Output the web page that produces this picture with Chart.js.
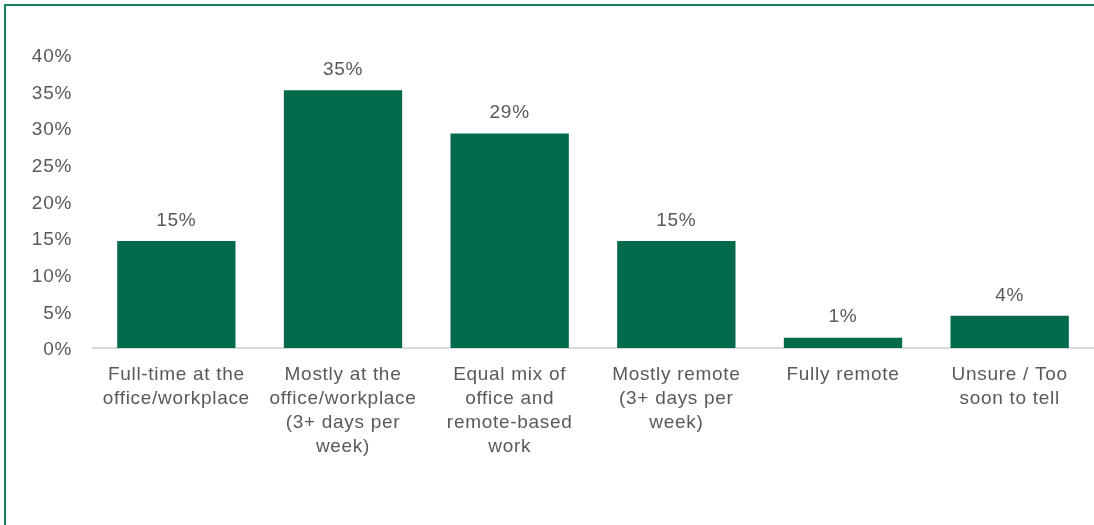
<!DOCTYPE html>
<html lang="en">
<head>
    <meta charset="UTF-8">
    <title>Preferred Work Arrangement</title>
    <script src="https://cdn.jsdelivr.net/npm/chart.js"></script>
    <style>
        html, body { margin: 0; padding: 0; background: #fff; }
        body { font-family: "Liberation Sans", Arial, sans-serif; }
        .frame { position: absolute; left: 4px; top: 4px; width: 1200px; height: 700px; border: 2px solid #1a7a5a; box-sizing: border-box; }
        .chart-container { position: absolute; left: 0; top: 0; width: 1094px; height: 525px; }
    </style>
</head>
<body>
    <div class="frame"></div>
    <div class="chart-container">
        <canvas id="workChart"></canvas>
    </div>

    <script>
        const categories = [
            ["Full-time at the", "office/workplace"],
            ["Mostly at the", "office/workplace", "(3+ days per", "week)"],
            ["Equal mix of", "office and", "remote-based", "work"],
            ["Mostly remote", "(3+ days per", "week)"],
            ["Fully remote"],
            ["Unsure / Too", "soon to tell"]
        ];
        const shares = [14.6, 35.2, 29.3, 14.6, 1.4, 4.4];
        const yTicks = [0, 5, 10, 15, 20, 25, 30, 35, 40];

        const textGrey = "#595959";
        const fontFamily = "'Liberation Sans', Arial, sans-serif";

        // slightly looser text tracking; resizing the canvas resets it, so reapply
        const tracking = {
            id: "tracking",
            beforeLayout(chart) { chart.ctx.letterSpacing = "0.7px"; },
            beforeDraw(chart) { chart.ctx.letterSpacing = "0.7px"; }
        };

        // value labels above each bar
        const barLabels = {
            id: "barLabels",
            afterDatasetsDraw(chart) {
                const ctx = chart.ctx;
                const meta = chart.getDatasetMeta(0);
                ctx.save();
                ctx.font = "19px " + fontFamily;
                ctx.fillStyle = textGrey;
                ctx.textAlign = "center";
                ctx.textBaseline = "bottom";
                meta.data.forEach((bar, i) => {
                    ctx.fillText(Math.round(shares[i]) + "%", bar.x, bar.y - 11);
                });
                ctx.restore();
            }
        };

        new Chart(document.getElementById("workChart"), {
            type: "bar",
            data: {
                labels: categories,
                datasets: [{
                    data: shares,
                    backgroundColor: "#036b4c",
                    borderWidth: 0,
                    categoryPercentage: 1,
                    barPercentage: 0.71
                }]
            },
            options: {
                responsive: true,
                maintainAspectRatio: false,
                animation: false,
                layout: { padding: { top: 55, left: 32, right: 1, bottom: 0 } },
                plugins: { legend: { display: false }, tooltip: { enabled: false } },
                scales: {
                    x: {
                        grid: { display: false, drawTicks: false },
                        border: { display: true, color: "#d9d9d9", width: 2 },
                        ticks: {
                            color: textGrey,
                            padding: 15,
                            maxRotation: 0,
                            autoSkip: false,
                            font: { size: 19, family: fontFamily, lineHeight: 1.263 }
                        },
                        afterFit: s => { s.height = 177; }
                    },
                    y: {
                        min: 0,
                        max: 40,
                        afterBuildTicks: s => { s.ticks = yTicks.map(v => ({ value: v })); },
                        grid: { display: false, drawTicks: false },
                        border: { display: false },
                        ticks: {
                            color: textGrey,
                            padding: 21,
                            labelOffset: 2,
                            callback: v => v + "%",
                            font: { size: 19, family: fontFamily }
                        },
                        afterFit: s => { s.width = 61; }
                    }
                }
            },
            plugins: [tracking, barLabels]
        });
    </script>
</body>
</html>
